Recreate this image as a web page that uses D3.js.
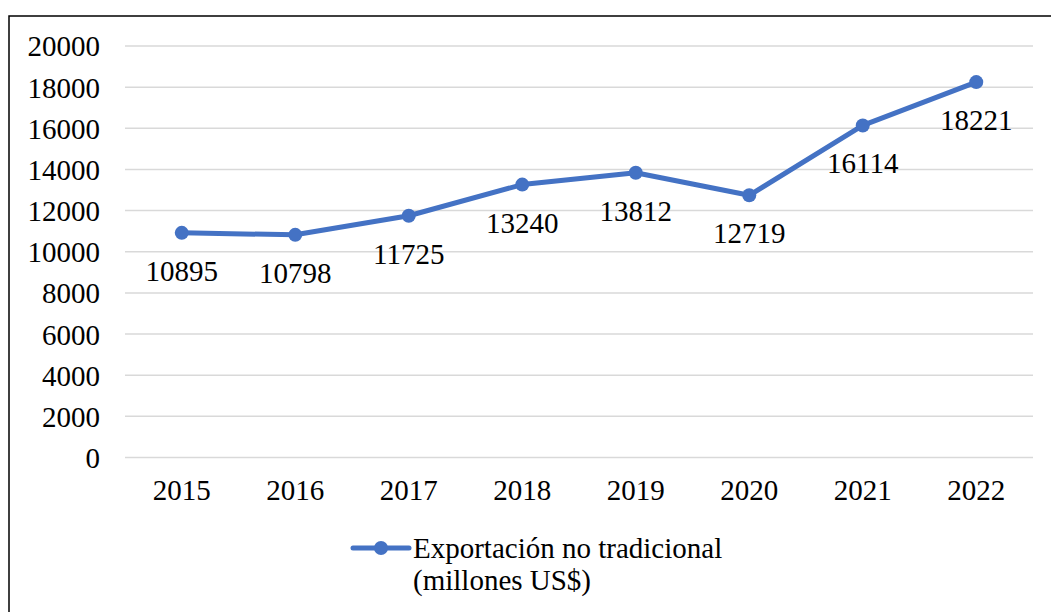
<html>
<meta charset="utf-8">
<head>
    <script src="https://d3js.org/d3.v7.min.js"></script>
    <style>
        body { margin: 0; background: #fff; }
        svg text { font-family: "Times New Roman", "Liberation Serif", "DejaVu Serif", serif !important; fill: #000; }
    </style>
</head>
<body>
<svg id="chart" width="1051" height="612"></svg>
<script>
    const years = ['2015', '2016', '2017', '2018', '2019', '2020', '2021', '2022'];
    const exports = [10895, 10798, 11725, 13240, 13812, 12719, 16114, 18221];
    const yTicks = [0, 2000, 4000, 6000, 8000, 10000, 12000, 14000, 16000, 18000, 20000];
    const seriesName = ['Exportación no tradicional', '(millones US$)'];

    const svg = d3.select('svg#chart');
    const margin = { top: 45.5, right: 18, bottom: 155, left: 125 };
    const chartWidth = 1051 - margin.left - margin.right;
    const chartHeight = 612 - margin.top - margin.bottom;
    const color = '#4472C4';
    const serif = '"Times New Roman", "Liberation Serif", "DejaVu Serif", serif';
    const fontSize = 29;

    // outer frame (cropped at right/bottom in the original)
    svg.append('rect')
        .attr('x', 9).attr('y', 16)
        .attr('width', 1060).attr('height', 620)
        .attr('fill', 'none').attr('stroke', '#000').attr('stroke-width', 1.5);

    const chartArea = svg.append('g')
        .attr('transform', `translate(${margin.left},${margin.top})`);

    const xScale = d3.scaleBand().domain(years).range([0, chartWidth]);
    const yScale = d3.scaleLinear().domain([0, 20000]).range([chartHeight, 0]);

    // gridlines
    const gridlines = d3.axisLeft(yScale).tickValues(yTicks).tickSize(-chartWidth).tickFormat('');
    chartArea.append('g').attr('class', 'gridlines').call(gridlines)
        .call(g => g.select('.domain').remove())
        .call(g => g.selectAll('line').attr('stroke', '#d9d9d9').attr('stroke-width', 1.5));

    // y axis labels
    const leftAxis = d3.axisLeft(yScale).tickValues(yTicks).tickSize(0).tickPadding(25).tickFormat(d => d);
    chartArea.append('g').call(leftAxis)
        .attr('font-family', serif).attr('font-size', fontSize)
        .call(g => g.select('.domain').remove())
        .call(g => g.selectAll('text').attr('fill', '#000').attr('dy', '0.36em'));

    // x axis labels
    const bottomAxis = d3.axisBottom(xScale).tickSize(0).tickPadding(22);
    chartArea.append('g').attr('transform', `translate(0,${chartHeight})`).call(bottomAxis)
        .attr('font-family', serif).attr('font-size', fontSize)
        .call(g => g.select('.domain').remove())
        .call(g => g.selectAll('text').attr('fill', '#000'));

    const xc = d => xScale(d) + xScale.bandwidth() / 2;

    const lineGen = d3.line()
        .x((d, i) => xc(years[i]))
        .y(d => yScale(d));

    chartArea.append('path')
        .datum(exports)
        .attr('fill', 'none')
        .attr('stroke', color)
        .attr('stroke-width', 5)
        .attr('stroke-linejoin', 'round')
        .attr('d', lineGen);

    chartArea.selectAll('circle.pt').data(exports).join('circle')
        .attr('class', 'pt')
        .attr('cx', (d, i) => xc(years[i]))
        .attr('cy', d => yScale(d))
        .attr('r', 7)
        .attr('fill', color);

    chartArea.selectAll('text.lbl').data(exports).join('text')
        .attr('class', 'lbl')
        .attr('x', (d, i) => xc(years[i]))
        .attr('y', d => yScale(d) + 48)
        .attr('text-anchor', 'middle')
        .attr('font-family', serif)
        .attr('font-size', fontSize)
        .text(d => d);

    // legend
    const legend = svg.append('g');
    legend.append('line')
        .attr('x1', 353).attr('x2', 409).attr('y1', 548).attr('y2', 548)
        .attr('stroke', color).attr('stroke-width', 5).attr('stroke-linecap', 'round');
    legend.append('circle').attr('cx', 381).attr('cy', 548).attr('r', 7).attr('fill', color);
    legend.selectAll('text').data(seriesName).join('text')
        .attr('x', 413)
        .attr('y', (d, i) => 558 + i * 32)
        .attr('font-family', serif)
        .attr('font-size', fontSize)
        .text(d => d);
</script>
</body>
</html>
